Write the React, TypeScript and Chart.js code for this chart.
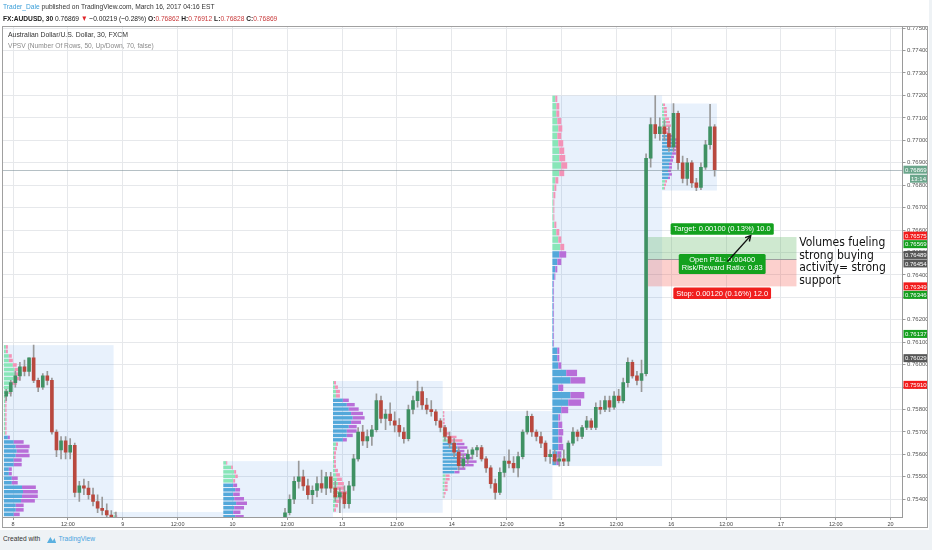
import React, { useEffect, useRef } from 'react';
import { Chart, registerables } from 'chart.js';

Chart.register(...registerables);

const SANS = '"Liberation Sans", Arial, sans-serif';
const NOTE_FONT = '"DejaVu Sans Condensed", "DejaVu Sans", sans-serif';

// ---- axes ----
const timeTickHours = [0, 12, 24, 36, 48, 60, 72, 84, 96, 108, 120, 132, 144, 156, 168, 180, 192];
const timeTickLabels = ['8', '12:00', '9', '12:00', '10', '12:00', '13', '12:00', '14', '12:00', '15', '12:00', '16', '12:00', '17', '12:00', '20'];
const priceTickLabels = ['0.77500', '0.77400', '0.77300', '0.77200', '0.77100', '0.77000', '0.76900', '0.76800', '0.76700', '0.76600', '0.76500', '0.76400', '0.76300', '0.76200', '0.76100', '0.76000', '0.75900', '0.75800', '0.75700', '0.75600', '0.75500', '0.75400'];
const timeRange = [-2.2, 194.6];
const priceRange = [0.75321, 0.77505];

// ---- hourly candles, [open, high, low, close] in pips above 0.75000 ----
const sessionStartHours = [-2, 22, 46, 70, 94, 118, 142];

const day8Candles = [
  [86, 89, 84, 88], [88, 93, 86, 92], [92, 97, 90, 95], [95, 101, 93, 99], [99, 102, 95, 97], [97, 103, 95, 103],
  [103, 108.7, 92, 93], [93, 94, 88, 90], [90, 96, 89, 95], [95, 97, 91, 93], [93, 94, 69, 70], [70, 71, 59, 62],
  [62, 68, 58, 66], [66, 68, 58, 61], [61, 67, 58, 64], [64, 65, 41, 43], [43, 48, 39, 46], [46, 49, 42, 45],
  [45, 48, 40, 42], [42, 45, 37, 39], [39, 42, 34, 36], [36, 41, 33, 35], [35, 38, 31, 33], [33, 35, 28, 30],
];
const day9Candles = [
  [30, 34.3, 27, 28], [28, 31, 25, 26], [26, 29, 22, 24], [24, 27, 20, 22], [22, 24, 17, 19], [19, 22, 15, 17],
  [17, 20, 13, 15], [15, 18, 12, 16], [16, 19, 13, 14], [14, 17, 10, 12], [12, 16, 9, 15], [15, 18, 12, 13],
  [13, 16, 10, 11], [11, 14, 8, 12], [12, 15, 9, 10], [10, 13, 7, 9], [9, 12, 6, 11], [11, 14, 8, 10],
  [10, 13, 7, 12], [12, 15, 9, 13], [13, 16, 10, 12], [12, 15, 9, 14], [14, 17, 11, 13], [13, 16, 10, 12],
];
const day10Candles = [
  [12, 15, 9, 13], [13, 16, 10, 14], [14, 18, 12, 17], [17, 20, 14, 16], [16, 19, 13, 18], [18, 22, 16, 20],
  [20, 23, 17, 19], [19, 22, 16, 21], [21, 25, 19, 23], [23, 26, 20, 22], [22, 26, 20, 25], [25, 29, 23, 27],
  [27, 31, 25, 30], [30, 36, 28, 34], [34, 42, 33, 40], [40, 50, 38, 48], [48, 57, 45, 50], [50, 53, 44, 46],
  [46, 49, 40, 42], [42, 46, 38, 44], [44, 50, 41, 47], [47, 53, 43, 45], [45, 52, 42, 50], [50, 52, 43, 45],
];
const day13Candles = [
  [45, 48, 39, 41], [41, 45, 34, 43], [43, 46, 36, 38], [38, 48, 36, 46], [46, 60, 44, 58], [58, 72, 57, 70],
  [70, 73, 64, 66], [66, 71, 63, 68], [68, 73, 64, 71], [71, 87, 70, 84], [84, 86, 74, 76], [76, 80, 71, 78],
  [78, 83, 73, 75], [75, 79, 70, 73], [73, 76, 68, 70], [70, 72, 65, 67], [67, 82, 66, 80], [80, 86, 78, 84],
  [84, 92.7, 81, 88], [88, 90, 80, 82], [82, 85, 78, 80], [80, 84, 77, 79], [79, 80, 73, 75], [75, 76, 70, 72],
];
const day14Candles = [
  [72, 73, 66, 68], [68, 70, 63, 65], [65, 67, 59, 61], [61, 63, 53, 55], [55, 60, 54, 58], [58, 62, 56, 60],
  [60, 63, 58, 62], [62, 64, 59, 63], [63, 64, 57, 58], [58, 59, 52, 54], [54, 55, 45, 47], [47, 49, 40.1, 43],
  [43, 54, 42, 52], [52, 59, 50, 57], [57, 62, 54, 56], [56, 59, 52, 54], [54, 61, 50, 59], [59, 71, 58, 70],
  [70, 79.3, 69, 77], [77, 78, 68, 70], [70, 71, 66, 68], [68, 70, 63, 65], [65, 66, 57, 59], [59, 62, 56, 60],
];
const day15Candles = [
  [60, 62, 56, 57], [57, 60, 54.8, 58], [58, 62, 55, 57], [57, 66, 55, 65], [65, 72, 64, 70], [70, 71, 66, 68],
  [68, 73, 67, 72], [72, 77, 71, 75], [75, 76, 71, 72], [72, 83, 71, 81], [81, 84, 78, 80], [80, 86, 79, 84],
  [84, 86, 79, 81], [81, 88, 80, 86], [86, 89, 83, 84], [84, 94, 83, 92], [92, 103, 90, 101], [101, 102, 94, 95],
  [95, 97, 91, 93], [93, 102, 88, 96], [96, 194, 95, 192], [192, 210, 188, 207], [207, 219.9, 201, 203], [203, 210, 200, 206],
];
const day16Candles = [
  [206, 209, 200, 203], [203, 206, 195, 197], [197, 216.4, 195, 212], [212, 213, 187, 190], [190, 193, 181, 183], [183, 192, 180, 190],
  [190, 191, 179, 181], [181, 183, 177.6, 179], [179, 190, 178, 188], [188, 200, 187, 198], [198, 216, 196, 206], [206, 207, 184, 186.9],
];

// ---- volume profile rows (top -> bottom), relative volume ----
const day8Up = [6, 6, 15, 15, 27, 33, 36, 30, 24, 15, 15, 4, 4, 4, 4, 4, 4, 4, 4, 4, 12, 30, 36, 39, 36, 30, 30, 15, 15, 24, 24, 55, 58, 55, 52, 36, 36, 30, 30, 24];
const day8Down = [6, 6, 9, 12, 12, 15, 18, 20, 15, 9, 9, 4, 4, 4, 4, 4, 4, 4, 4, 4, 6, 30, 42, 36, 42, 24, 24, 9, 9, 18, 18, 42, 45, 48, 42, 24, 24, 18, 18, 15];
const day8VA = [20, 39];
const day9Up = [3, 6, 9, 12, 15, 18, 21, 24, 30, 36, 42, 48, 45, 40, 36, 30, 24, 18, 12, 6];
const day9Down = [3, 5, 8, 10, 12, 15, 18, 20, 24, 30, 36, 40, 38, 33, 30, 24, 20, 15, 10, 5];
const day9VA = [6, 16];
const day10Up = [9, 24, 33, 36, 30, 30, 36, 30, 33, 39, 33, 30, 36, 40, 45, 42, 38, 35, 30, 25, 20, 15, 10, 6];
const day10Down = [3, 5, 6, 8, 6, 12, 15, 20, 30, 33, 30, 22, 26, 30, 33, 30, 28, 24, 20, 18, 14, 10, 8, 4];
const day10VA = [5, 20];
const day13Up = [3, 6, 9, 9, 30, 42, 48, 55, 60, 55, 48, 42, 42, 30, 9, 6, 3, 3, 3, 3, 6, 9, 12, 15, 12, 18, 15, 9, 6, 3];
const day13Down = [6, 9, 12, 12, 18, 24, 30, 36, 36, 30, 24, 30, 18, 12, 6, 6, 6, 5, 6, 6, 9, 12, 15, 18, 24, 24, 21, 15, 9, 6];
const day13VA = [4, 13];
const day14Up = [1, 1, 1, 1, 1, 3, 6, 12, 18, 42, 45, 48, 48, 55, 55, 52, 45, 36, 9, 9, 6, 6, 6, 3, 3];
const day14Down = [4, 4, 5, 5, 5, 9, 15, 30, 42, 24, 30, 18, 30, 36, 48, 42, 24, 15, 12, 12, 9, 9, 9, 6, 3];
const day14VA = [9, 17];
const day15Up = [9, 12, 12, 15, 18, 15, 18, 21, 21, 27, 21, 9, 6, 3, 3, 3, 3, 6, 12, 18, 24, 21, 15, 9, 6, 3, 3, 3, 3, 3, 3, 3, 3, 3, 15, 15, 18, 42, 55, 18, 55, 48, 27, 18, 18, 18, 18, 18, 15, 12];
const day15Down = [6, 9, 9, 12, 12, 12, 15, 15, 18, 18, 15, 9, 6, 6, 3, 3, 3, 6, 9, 9, 12, 21, 12, 6, 3, 2, 2, 2, 2, 2, 2, 2, 2, 2, 6, 6, 9, 33, 45, 15, 42, 39, 21, 6, 12, 15, 12, 15, 12, 9];
const day15VA = [21, 49];
const day16Up = [3, 5, 6, 6, 9, 12, 12, 10, 9, 27, 33, 36, 36, 33, 30, 27, 24, 21, 21, 18, 21, 18, 9, 6, 6];
const day16Down = [6, 9, 9, 9, 12, 12, 15, 12, 9, 12, 15, 12, 12, 9, 12, 9, 9, 9, 9, 9, 9, 6, 6, 6, 3];
const day16VA = [9, 21];

// ---- drawings ----
const lastPrice = 0.76869;
const countdownText = '13:14';
const axisLabelPrices = [0.76869, 0.76575, 0.76569, 0.76489, 0.76454, 0.76349, 0.76346, 0.76137, 0.76029, 0.7591];
const axisLabelColors = ['#6aa58b', '#f21c1c', '#16a01f', '#575757', '#575757', '#f21c1c', '#16a01f', '#16a01f', '#575757', '#f21c1c'];
const positionHours = [138.9, 171.4];
const positionPrices = [0.76569, 0.76469, 0.76349]; // target, entry, stop
const positionTexts = ['Target: 0.00100 (0.13%) 10.0', 'Open P&L: 0.00400', 'Risk/Reward Ratio: 0.83', 'Stop: 0.00120 (0.16%) 12.0'];
const arrowFrom = [156.3, 0.7646];
const arrowTo = [161.4, 0.76575];
const noteLines = ['Volumes fueling', 'strong buying', 'activity= strong', 'support'];
const noteAnchor = [172, 0.76541];

const PROFILE_HOURS_PER_UNIT = 0.072;
const COLORS = {
  up: '#3f9163',
  down: '#b9483e',
  wick: '#999999',
  box: 'rgba(33,120,225,0.1)',
  upVA: '#53a8da',
  downVA: '#b86ed8',
  upOut: '#88e6b8',
  downOut: '#f392b7',
  grid: '#e6e8eb',
};

const pip = (p: number) => 0.75 + p / 10000;

const sessions = [
  { candles: day8Candles, up: day8Up, down: day8Down, va: day8VA },
  { candles: day9Candles, up: day9Up, down: day9Down, va: day9VA },
  { candles: day10Candles, up: day10Up, down: day10Down, va: day10VA },
  { candles: day13Candles, up: day13Up, down: day13Down, va: day13VA },
  { candles: day14Candles, up: day14Up, down: day14Down, va: day14VA },
  { candles: day15Candles, up: day15Up, down: day15Down, va: day15VA },
  { candles: day16Candles, up: day16Up, down: day16Down, va: day16VA },
].map((s, i) => ({ ...s, start: sessionStartHours[i] }));

const candles = sessions.flatMap((s) =>
  s.candles.map((c, k) => ({ t: s.start + k + 0.5, o: pip(c[0]), h: pip(c[1]), l: pip(c[2]), c: pip(c[3]) }))
);

function roundRect(ctx: CanvasRenderingContext2D, x: number, y: number, w: number, h: number, r: number) {
  ctx.beginPath();
  ctx.moveTo(x + r, y);
  ctx.lineTo(x + w - r, y);
  ctx.quadraticCurveTo(x + w, y, x + w, y + r);
  ctx.lineTo(x + w, y + h - r);
  ctx.quadraticCurveTo(x + w, y + h, x + w - r, y + h);
  ctx.lineTo(x + r, y + h);
  ctx.quadraticCurveTo(x, y + h, x, y + h - r);
  ctx.lineTo(x, y + r);
  ctx.quadraticCurveTo(x, y, x + r, y);
  ctx.closePath();
}

const overlayPlugin = {
  id: 'overlay',
  beforeDatasetsDraw(chart: any) {
    const { ctx, chartArea: a, scales } = chart;
    const X = (h: number) => scales.x.getPixelForValue(h);
    const Y = (p: number) => scales.y.getPixelForValue(p);
    ctx.save();
    ctx.beginPath();
    ctx.rect(a.left, a.top, a.right - a.left, a.bottom - a.top);
    ctx.clip();

    // session volume profiles
    sessions.forEach((s) => {
      let hi = -Infinity;
      let lo = Infinity;
      s.candles.forEach((c) => {
        hi = Math.max(hi, c[1]);
        lo = Math.min(lo, c[2]);
      });
      const end = s.start + s.candles.length;
      const x0 = X(s.start);
      const x1 = X(end);
      ctx.fillStyle = COLORS.box;
      ctx.fillRect(x0, Y(pip(hi)), x1 - x0, Y(pip(lo)) - Y(pip(hi)));
      const n = s.up.length;
      const step = (hi - lo) / n;
      for (let i = 0; i < n; i++) {
        const yTop = Y(pip(hi - i * step));
        const yBot = Y(pip(hi - (i + 1) * step));
        const h = yBot - yTop;
        const gap = h > 2.5 ? 1 : 0;
        const inVA = i >= s.va[0] && i <= s.va[1];
        const xa = X(s.start);
        const xb = X(s.start + s.up[i] * PROFILE_HOURS_PER_UNIT);
        const xc = X(s.start + (s.up[i] + s.down[i]) * PROFILE_HOURS_PER_UNIT);
        ctx.fillStyle = inVA ? COLORS.upVA : COLORS.upOut;
        ctx.fillRect(xa, yTop, xb - xa, h - gap);
        ctx.fillStyle = inVA ? COLORS.downVA : COLORS.downOut;
        ctx.fillRect(xb, yTop, xc - xb, h - gap);
      }
    });

    // current price line
    ctx.strokeStyle = 'rgba(120,140,150,0.55)';
    ctx.lineWidth = 1;
    const yl = Math.round(Y(lastPrice)) + 0.5;
    ctx.beginPath();
    ctx.moveTo(a.left, yl);
    ctx.lineTo(a.right, yl);
    ctx.stroke();

    // long position zones
    const px0 = X(positionHours[0]);
    const px1 = X(positionHours[1]);
    const yT = Y(positionPrices[0]);
    const yE = Y(positionPrices[1]);
    const yS = Y(positionPrices[2]);
    ctx.fillStyle = 'rgba(76,175,80,0.27)';
    ctx.fillRect(px0, yT, px1 - px0, yE - yT);
    ctx.fillStyle = 'rgba(244,67,54,0.25)';
    ctx.fillRect(px0, yE, px1 - px0, yS - yE);
    ctx.strokeStyle = '#9e9e9e';
    ctx.beginPath();
    ctx.moveTo(px0, Math.round(yE) + 0.5);
    ctx.lineTo(px1, Math.round(yE) + 0.5);
    ctx.stroke();
    ctx.restore();
  },
  afterDatasetsDraw(chart: any) {
    const { ctx, chartArea: a, scales } = chart;
    const X = (h: number) => scales.x.getPixelForValue(h);
    const Y = (p: number) => scales.y.getPixelForValue(p);
    ctx.save();
    ctx.beginPath();
    ctx.rect(a.left, a.top, a.right - a.left, a.bottom - a.top);
    ctx.clip();

    const px0 = X(positionHours[0]);
    const px1 = X(positionHours[1]);
    const cx = (px0 + px1) / 2;
    const yT = Y(positionPrices[0]);
    const yE = Y(positionPrices[1]);
    const yS = Y(positionPrices[2]);
    ctx.font = '7.5px ' + SANS;
    ctx.textBaseline = 'middle';
    ctx.textAlign = 'center';
    const label = (lines: string[], color: string, yc: number) => {
      const w = Math.max(...lines.map((l) => ctx.measureText(l).width)) + 6;
      const h = lines.length * 8.5 + 3;
      ctx.fillStyle = color;
      roundRect(ctx, cx - w / 2, yc - h / 2, w, h, 1.5);
      ctx.fill();
      ctx.fillStyle = '#ffffff';
      lines.forEach((l, i) => ctx.fillText(l, cx, yc - h / 2 + 1.5 + 8.5 * i + 4.5));
    };
    label([positionTexts[0]], '#13a11e', yT - 8);
    label([positionTexts[1], positionTexts[2]], '#13a11e', yE + 4.5);
    label([positionTexts[3]], '#f01e1e', yS + 7);

    // arrow
    const ax0 = X(arrowFrom[0]);
    const ay0 = Y(arrowFrom[1]);
    const ax1 = X(arrowTo[0]);
    const ay1 = Y(arrowTo[1]);
    ctx.strokeStyle = '#111';
    ctx.lineWidth = 1.4;
    ctx.beginPath();
    ctx.moveTo(ax0, ay0);
    ctx.lineTo(ax1, ay1);
    ctx.stroke();
    const ang = Math.atan2(ay1 - ay0, ax1 - ax0);
    ctx.beginPath();
    ctx.moveTo(ax1 - 6 * Math.cos(ang - 0.5), ay1 - 6 * Math.sin(ang - 0.5));
    ctx.lineTo(ax1, ay1);
    ctx.lineTo(ax1 - 6 * Math.cos(ang + 0.5), ay1 - 6 * Math.sin(ang + 0.5));
    ctx.stroke();

    // note
    ctx.font = '12px ' + NOTE_FONT;
    ctx.textAlign = 'left';
    ctx.fillStyle = '#111';
    const nx = X(noteAnchor[0]);
    const ny = Y(noteAnchor[1]);
    noteLines.forEach((l, i) => ctx.fillText(l, nx, ny + i * 12.5));
    ctx.restore();
  },
  afterDraw(chart: any) {
    const { ctx, chartArea: a, scales } = chart;
    const ys = scales.y;
    const xs = scales.x;
    ctx.save();
    // frame
    ctx.strokeStyle = '#a0a0a0';
    ctx.lineWidth = 1;
    const L = Math.round(a.left) - 0.5;
    const T = Math.round(a.top) - 0.5;
    const R = Math.round(ys.right) - 0.5;
    const B = Math.round(xs.bottom) - 0.5;
    ctx.strokeRect(L, T, R - L, B - T);

    // price labels on the axis
    ctx.font = '6px ' + SANS;
    ctx.textBaseline = 'middle';
    ctx.textAlign = 'left';
    let prev = -Infinity;
    const bx = ys.left + 1;
    const bw = ys.right - ys.left - 2;
    axisLabelPrices.forEach((p, i) => {
      const yc = Math.max(ys.getPixelForValue(p), prev + 8.5);
      prev = yc;
      ctx.fillStyle = axisLabelColors[i];
      ctx.fillRect(bx, yc - 4, bw, 8);
      ctx.fillStyle = '#ffffff';
      ctx.fillText(p.toFixed(5), bx + 1.5, yc + 0.5);
      if (i === 0) {
        ctx.fillStyle = axisLabelColors[0];
        ctx.fillRect(ys.right - 18, yc + 5, 17, 8);
        ctx.fillStyle = '#ffffff';
        ctx.fillText(countdownText, ys.right - 17, yc + 9.5);
        prev = yc + 9;
      }
    });
    ctx.restore();
  },
};

export default function App() {
  const ref = useRef<HTMLCanvasElement | null>(null);

  useEffect(() => {
    if (!ref.current) return;
    const upOrDown = (ctx: any) => {
      const c = candles[ctx.dataIndex];
      return c && c.c >= c.o ? COLORS.up : COLORS.down;
    };
    const chart = new Chart(ref.current, {
      type: 'bar',
      data: {
        datasets: [
          {
            label: 'bodies',
            data: candles.map((c) => ({ x: c.t, y: [c.o, c.c] })) as any,
            backgroundColor: upOrDown,
            barThickness: 3,
            grouped: false,
            minBarLength: 1,
            order: 1,
          } as any,
          {
            label: 'wicks',
            data: candles.map((c) => ({ x: c.t, y: [c.l, c.h] })) as any,
            backgroundColor: COLORS.wick,
            barThickness: 1,
            grouped: false,
            order: 2,
          } as any,
        ],
      },
      options: {
        animation: false,
        responsive: false,
        devicePixelRatio: 1,
        layout: { padding: { left: 3, top: 27, right: 1, bottom: 2 } },
        plugins: { legend: { display: false }, tooltip: { enabled: false } },
        scales: {
          x: {
            type: 'linear',
            min: timeRange[0],
            max: timeRange[1],
            offset: false,
            grid: { color: COLORS.grid, tickColor: '#9a9a9a', tickLength: 3, offset: false },
            border: { color: '#9a9a9a' },
            ticks: {
              autoSkip: false,
              maxRotation: 0,
              minRotation: 0,
              padding: 1,
              color: '#444',
              font: { family: SANS, size: 5.5 },
              callback: (_v: any, i: number) => timeTickLabels[i],
            },
            afterBuildTicks: (s: any) => {
              s.ticks = timeTickHours.map((value) => ({ value }));
            },
            afterFit: (s: any) => {
              s.height = 11;
            },
          },
          y: {
            type: 'linear',
            position: 'right',
            min: priceRange[0],
            max: priceRange[1],
            beginAtZero: false,
            grid: { color: COLORS.grid, tickColor: '#9a9a9a', tickLength: 3 },
            border: { color: '#9a9a9a' },
            ticks: {
              padding: 1.5,
              color: '#555',
              font: { family: SANS, size: 6 },
              callback: (_v: any, i: number) => priceTickLabels[i],
            },
            afterBuildTicks: (s: any) => {
              s.ticks = priceTickLabels.map((l) => ({ value: parseFloat(l) }));
            },
            afterFit: (s: any) => {
              s.width = 25.5;
            },
          },
        },
      } as any,
      plugins: [overlayPlugin],
    });
    return () => chart.destroy();
  }, []);

  const base: React.CSSProperties = {
    position: 'absolute',
    whiteSpace: 'nowrap',
    fontFamily: SANS,
    fontSize: 8,
    lineHeight: '10px',
    transform: 'scaleX(0.83)',
    transformOrigin: 'left center',
  };
  const red = { color: '#c8393a' };
  return (
    <div style={{ position: 'fixed', left: 0, top: 0, width: 932, height: 550, background: '#eef2f5', overflow: 'hidden' }}>
      <div style={{ position: 'absolute', left: 0, top: 0, width: 929, height: 530, background: '#ffffff' }}>
        <canvas ref={ref} width={929} height={530} style={{ position: 'absolute', left: 0, top: 0, width: 929, height: 530 }} />
      </div>
      <div style={{ ...base, left: 3, top: 2, color: '#333' }}>
        <span style={{ color: '#3a9ed8' }}>Trader_Dale</span> published on TradingView.com, March 16, 2017 04:16 EST
      </div>
      <div style={{ ...base, left: 3, top: 14, color: '#222' }}>
        <b>FX:AUDUSD, 30</b> 0.76869 <span style={{ color: '#e0262a' }}>▼</span> −0.00219 (−0.28%) <b>O:</b>
        <span style={red}>0.76862</span> <b>H:</b><span style={red}>0.76912</span> <b>L:</b>
        <span style={red}>0.76828</span> <b>C:</b><span style={red}>0.76869</span>
      </div>
      <div style={{ ...base, left: 8, top: 30, color: '#333', transform: 'scaleX(0.86)' }}>Australian Dollar/U.S. Dollar, 30, FXCM</div>
      <div style={{ ...base, left: 8, top: 41, color: '#8a8a8a' }}>VPSV (Number Of Rows, 50, Up/Down, 70, false)</div>
      <div style={{ ...base, left: 3, top: 534, color: '#333', display: 'flex', alignItems: 'center' }}>
        <span>Created with</span>
        <svg width="13" height="9" viewBox="0 0 13 9" style={{ marginLeft: 7, marginRight: 2 }}>
          <path d="M1 8 L5 2 L8 6 L10 3 L12 8 Z" fill="#5ab0e0" />
        </svg>
        <span style={{ color: '#4aa3df' }}>TradingView</span>
      </div>
    </div>
  );
}
